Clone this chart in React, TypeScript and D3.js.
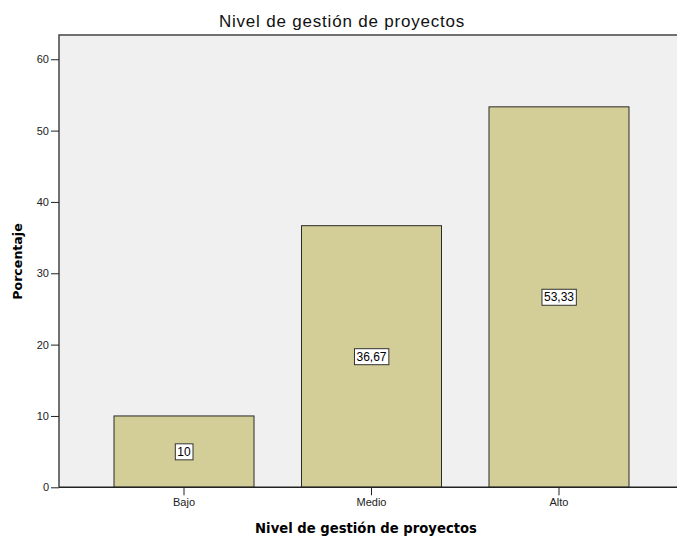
import React, { useRef, useEffect } from 'react';
import * as d3 from 'd3';

const categories = ['Bajo', 'Medio', 'Alto'];
const percents = [10, 36.67, 53.33];
const valueLabels = ['10', '36,67', '53,33'];
const yTicks = [0, 10, 20, 30, 40, 50, 60];

const W = 677;
const H = 537;

export default function App() {
    const ref = useRef<SVGSVGElement>(null);

    useEffect(() => {
        if (!ref.current) return;
        const svg = d3.select(ref.current);
        svg.selectAll('*').remove();

        const left = 59, top = 35, right = 690, bottom = 487.3;
        const font = 'Liberation Sans, Arial, sans-serif';

        const x = d3.scaleBand<string>()
            .domain(categories)
            .range([90.25, 652.75])
            .paddingInner(0.2533)
            .paddingOuter(0.1267);
        const y = d3.scaleLinear().domain([0, 63.4]).range([bottom, top]);

        // plot background
        svg.append('rect')
            .attr('x', left).attr('y', top)
            .attr('width', right - left).attr('height', bottom - top)
            .attr('fill', '#f0f0f0');

        // bars
        svg.selectAll('.bar')
            .data(percents)
            .enter()
            .append('rect')
            .attr('x', (d, i) => x(categories[i]) as number)
            .attr('y', d => y(d))
            .attr('width', x.bandwidth())
            .attr('height', d => bottom - y(d))
            .attr('fill', '#d3ce97')
            .attr('stroke', '#2a2a2a')
            .attr('stroke-width', 1);

        // value labels
        const lab = svg.selectAll('.lab')
            .data(percents)
            .enter()
            .append('g')
            .attr('transform', (d, i) => `translate(${(x(categories[i]) as number) + x.bandwidth() / 2},${y(d / 2)})`);
        lab.each(function (d, i) {
            const g = d3.select(this);
            const t = g.append('text')
                .text(valueLabels[i])
                .attr('text-anchor', 'middle')
                .attr('dy', '0.35em')
                .style('font-family', font)
                .style('font-size', '12px')
                .attr('fill', '#000');
            const bb = (t.node() as SVGTextElement).getBBox();
            g.insert('rect', 'text')
                .attr('x', bb.x - 2).attr('y', bb.y - 1)
                .attr('width', bb.width + 4).attr('height', bb.height + 2)
                .attr('fill', '#fff')
                .attr('stroke', '#333')
                .attr('stroke-width', 1);
        });

        // frame (top + left)
        svg.append('path')
            .attr('d', `M${left},${bottom}V${top}H${right}`)
            .attr('fill', 'none').attr('stroke', '#444').attr('stroke-width', 1.5);

        // y axis
        const ya = svg.append('g')
            .attr('transform', `translate(${left},0)`)
            .call(d3.axisLeft(y).tickValues(yTicks).tickSize(8).tickPadding(2).tickFormat(d3.format('d')));
        ya.select('.domain').remove();
        ya.selectAll('line').attr('stroke', '#222');
        ya.selectAll('text').style('font-family', font).style('font-size', '11px').attr('fill', '#222');

        // x axis
        const xa = svg.append('g')
            .attr('transform', `translate(0,${bottom})`)
            .call(d3.axisBottom(x).tickSize(8).tickPadding(3));
        xa.select('.domain').remove();
        xa.selectAll('line').attr('stroke', '#222');
        xa.selectAll('text').style('font-family', font).style('font-size', '11px').attr('fill', '#222');
        svg.append('line')
            .attr('x1', left).attr('x2', right)
            .attr('y1', bottom).attr('y2', bottom)
            .attr('stroke', '#222').attr('stroke-width', 1.5);

        // titles
        svg.append('text')
            .attr('x', 342).attr('y', 27)
            .attr('text-anchor', 'middle')
            .style('font-family', font).style('font-size', '17px')
            .style('letter-spacing', '0.8px')
            .attr('fill', '#111')
            .text('Nivel de gestión de proyectos');
        svg.append('text')
            .attr('x', 366).attr('y', 533)
            .attr('text-anchor', 'middle')
            .style('font-family', 'DejaVu Sans, sans-serif').style('font-size', '13.2px').style('font-weight', 'bold')
            .text('Nivel de gestión de proyectos');
        svg.append('text')
            .attr('transform', 'translate(22,261.5) rotate(-90)')
            .attr('text-anchor', 'middle')
            .style('font-family', 'DejaVu Sans, sans-serif').style('font-size', '12.6px').style('font-weight', 'bold')
            .text('Porcentaje');
    }, []);

    return (
        <svg ref={ref} width={W} height={H}
            style={{ position: 'absolute', left: 0, top: 0, background: '#fff' }} />
    );
}
